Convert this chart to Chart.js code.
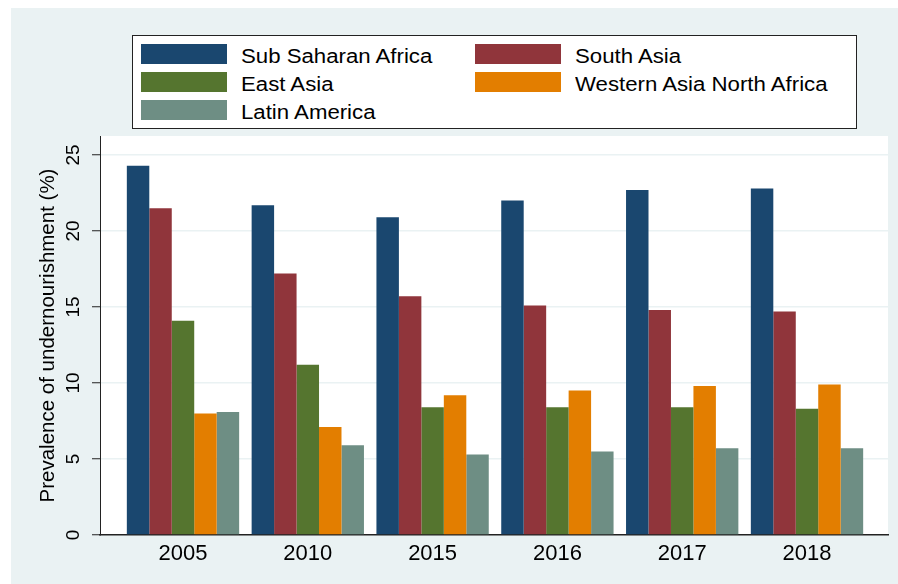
<!DOCTYPE html>
<html><head><meta charset="utf-8">
<script src="https://cdn.jsdelivr.net/npm/chart.js@4.4.1/dist/chart.umd.min.js"></script>
<style>
html,body{margin:0;padding:0;background:#fff;}
#wrap{position:relative;width:898px;height:584px;overflow:hidden;}
#legend{position:absolute;left:132px;top:35px;width:723px;height:92px;border:1px solid #222;background:#fff;font-family:'Liberation Sans',Arial,sans-serif;color:#000;}
.item{position:absolute;width:320px;height:20px;}
.sw{position:absolute;left:0;top:0;width:86px;height:20px;}
.lb{position:absolute;left:100px;top:2px;font-size:20px;line-height:20px;white-space:nowrap;transform:scaleX(1.11);transform-origin:left center;}
</style></head>
<body><div id="wrap"><canvas id="c" width="898" height="584"></canvas><div id="legend"></div></div>
<script>
const categories = ['2005','2010','2015','2016','2017','2018'];
const seriesNames = ['Sub Saharan Africa','South Asia','East Asia','Western Asia North Africa','Latin America'];
const subSaharanAfrica = [24.3, 21.7, 20.9, 22.0, 22.7, 22.8];
const southAsia = [21.5, 17.2, 15.7, 15.1, 14.8, 14.7];
const eastAsia = [14.1, 11.2, 8.4, 8.4, 8.4, 8.3];
const westernAsiaNorthAfrica = [8.0, 7.1, 9.2, 9.5, 9.8, 9.9];
const latinAmerica = [8.1, 5.9, 5.3, 5.5, 5.7, 5.7];
const yTicks = [0, 5, 10, 15, 20, 25];

const seriesValues = [subSaharanAfrica, southAsia, eastAsia, westernAsiaNorthAfrica, latinAmerica];
const colors = ['#1a476f','#90353b','#55752f','#e37e00','#6e8e84'];
const FAMILY = "'Liberation Sans', Arial, Helvetica, sans-serif";

const bgPlugin = {
  id: 'bg',
  beforeDraw(chart) {
    const {ctx, chartArea: a} = chart;
    ctx.save();
    ctx.fillStyle = '#ffffff';
    ctx.fillRect(0, 0, chart.width, chart.height);
    ctx.fillStyle = '#eaf2f3';
    ctx.fillRect(11, 8, chart.width - 11, chart.height - 8);
    ctx.fillStyle = '#ffffff';
    ctx.fillRect(a.left, a.top, a.right - a.left, a.bottom - a.top);
    ctx.restore();
  }
};

const datasets = seriesNames.map((name, k) => ({
  label: name,
  data: seriesValues[k].map((v, i) => ({x: i, y: v})),
  backgroundColor: colors[k],
  borderWidth: 0,
  barPercentage: 1,
  categoryPercentage: 0.9
}));

const chart = new Chart(document.getElementById('c'), {
  type: 'bar',
  data: {datasets},
  plugins: [bgPlugin],
  options: {
    responsive: false,
    animation: false,
    layout: {padding: {top: 136, right: 10, bottom: 0, left: 0}},
    plugins: {legend: {display: false}, tooltip: {enabled: false}},
    scales: {
      x: {
        type: 'linear', min: -0.665, max: 5.649, offset: false,
        afterBuildTicks: s => { s.ticks = categories.map((c, i) => ({value: i})); },
        afterFit: s => { s.height = 49; },
        grid: {display: false, drawTicks: false},
        border: {display: true, color: '#222', width: 1.5},
        ticks: {
          callback: v => categories[v],
          font: {family: FAMILY, size: 22}, color: '#000', padding: 6,
          autoSkip: false, maxRotation: 0, minRotation: 0
        }
      },
      y: {
        min: 0, max: 26.25,
        afterBuildTicks: s => { s.ticks = yTicks.map(v => ({value: v})); },
        afterFit: s => { s.width = 100; },
        grid: {
          color: ctx => (ctx.tick && ctx.tick.value === 0) ? 'rgba(0,0,0,0)' : '#eaf2f3',
          lineWidth: 1.5, drawTicks: true, tickLength: 8, tickColor: '#222', tickWidth: 1
        },
        border: {display: true, color: '#222', width: 1},
        ticks: {
          font: {family: FAMILY, size: 19}, color: '#000', padding: 8,
          minRotation: 90, maxRotation: 90, crossAlign: 'center', autoSkip: false
        },
        title: {
          display: true, text: 'Prevalence of undernourishment (%)',
          font: {family: FAMILY, size: 20.5}, color: '#000', padding: {top: 36, bottom: 0}
        }
      }
    }
  }
});

const legend = document.getElementById('legend');
chart.data.datasets.forEach((ds, k) => {
  const col = k % 2, row = Math.floor(k / 2);
  const it = document.createElement('div');
  it.className = 'item';
  it.style.left = (8 + col * 334) + 'px';
  it.style.top = (8 + row * 28) + 'px';
  const sw = document.createElement('div');
  sw.className = 'sw';
  sw.style.background = ds.backgroundColor;
  const lb = document.createElement('div');
  lb.className = 'lb';
  lb.textContent = ds.label;
  it.appendChild(sw); it.appendChild(lb);
  legend.appendChild(it);
});
</script>
</body></html>
